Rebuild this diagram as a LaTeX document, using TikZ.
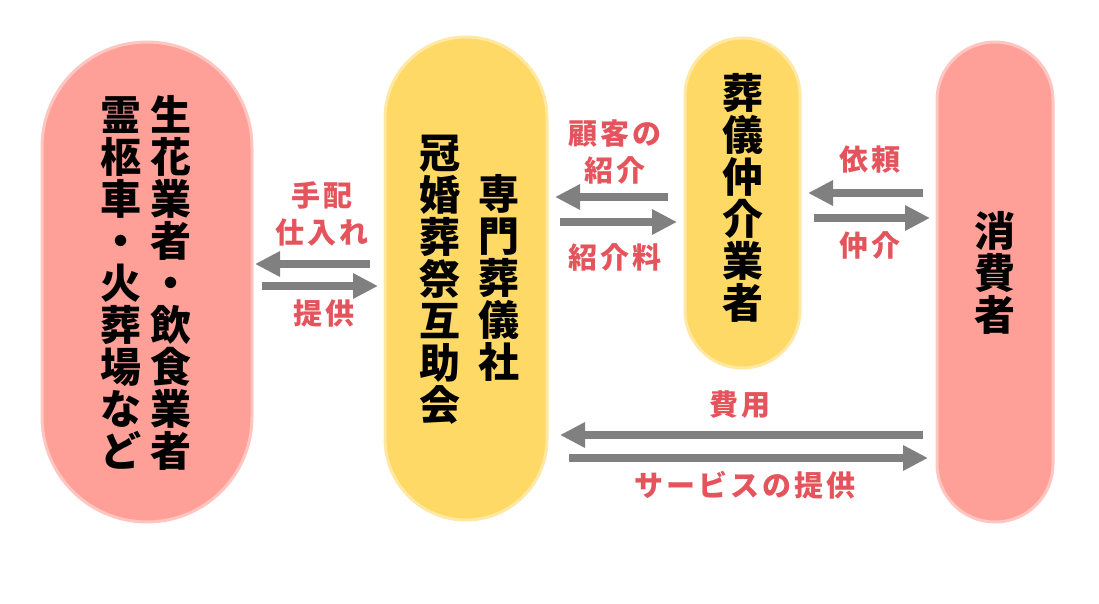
\documentclass[tikz,border=0pt]{standalone}
\usepackage{fontspec}
\setmainfont{Noto Sans CJK JP}
\usetikzlibrary{arrows.meta}

\definecolor{pinkfill}{RGB}{255,160,152}
\definecolor{yellowfill}{RGB}{255,217,102}
\definecolor{arrowgray}{RGB}{128,128,128}
\definecolor{labelred}{RGB}{228,84,92}

\begin{document}
\begin{tikzpicture}[x=1pt, y=-1pt,
    pill/.style={inner sep=0pt, outer sep=0pt, line width=3pt},
    pinkpill/.style={pill, fill=pinkfill, draw=pinkfill!60},
    yellowpill/.style={pill, fill=yellowfill, draw=yellowfill!60},
    maintext/.style={font=\fontsize{41}{42}\selectfont\bfseries, align=center, inner sep=0pt},
    labeltext/.style={font=\fontsize{29}{37}\selectfont\bfseries\addfontfeature{LetterSpace=10}, text=labelred, align=center, inner sep=0pt},
    flow/.style={draw=arrowgray, line width=8pt, -{Triangle[length=25pt, width=24pt]}}]

% --- canvas ---
\useasboundingbox (0,0) rectangle (1099,604);

% --- 1. PARTIES ---
\node[pinkpill, minimum width=210, minimum height=480, rounded corners=104.9] (vendor) at (147,282) {};
\node[yellowpill, minimum width=162, minimum height=483, rounded corners=80.9] (mutual) at (466,278.5) {};
\node[yellowpill, minimum width=115, minimum height=330, rounded corners=57.4] (broker) at (742.5,203) {};
\node[pinkpill, minimum width=116, minimum height=480, rounded corners=57.9] (consumer) at (995,282) {};

% vertical captions
\node[maintext] (vendorR) at (171,283) {生\\花\\業\\者\\・\\飲\\食\\業\\者};
\node[maintext] (vendorL) at (121,283) {霊\\柩\\車\\・\\火\\葬\\場\\な\\ど};
\node[maintext] (mutualR) at (499,278) {専\\門\\葬\\儀\\社};
\node[maintext] (mutualL) at (440,280) {冠\\婚\\葬\\祭\\互\\助\\会};
\node[maintext] (brokerT) at (743,198) {葬\\儀\\仲\\介\\業\\者};
\node[maintext] (consumerT) at (995,273) {消\\費\\者};

% --- 2. FLOWS ---
% vendor <-> mutual
\draw[flow, shorten <=15pt, shorten >=3pt] (mutual.west |- 0,264) -- (vendor.east |- 0,264);
\draw[flow, shorten <=10pt, shorten >=7pt] (vendor.east |- 0,286) -- (mutual.west |- 0,286);
\node[labeltext] (orderLbl) at (322,214) {手配\\仕入れ};
\node[labeltext] (supplyLbl) at (324,313) {提供};

% mutual <-> broker
\draw[flow, shorten <=17pt, shorten >=8pt] (broker.west |- 0,197) -- (mutual.east |- 0,197);
\draw[flow, shorten <=13pt, shorten >=8pt] (mutual.east |- 0,222) -- (broker.west |- 0,222);
\node[labeltext] (referLbl) at (615,152) {顧客の\\紹介};
\node[labeltext] (feeLbl) at (615,257) {紹介料};

% broker <-> consumer
\draw[flow, shorten <=14pt, shorten >=8pt] (consumer.west |- 0,193) -- (broker.east |- 0,193);
\draw[flow, shorten <=14pt, shorten >=7pt] (broker.east |- 0,218) -- (consumer.west |- 0,218);
\node[labeltext] (requestLbl) at (870,160) {依頼};
\node[labeltext] (mediateLbl) at (870,245) {仲介};

% consumer <-> mutual
\draw[flow, shorten <=14pt, shorten >=13pt] (consumer.west |- 0,435) -- (mutual.east |- 0,435);
\draw[flow, shorten <=22pt, shorten >=9pt] (mutual.east |- 0,458) -- (consumer.west |- 0,458);
\node[labeltext] (costLbl) at (740,405) {費用};
\node[labeltext] (serviceLbl) at (745,485) {サービスの提供};

\end{tikzpicture}
\end{document}
